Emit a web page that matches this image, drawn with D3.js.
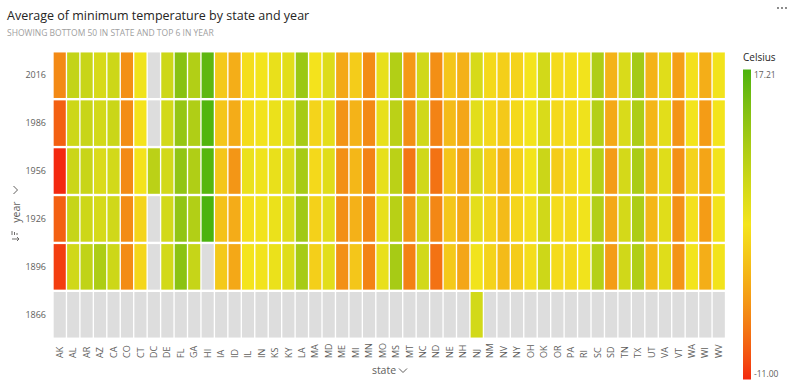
<!DOCTYPE html>
<html>
<head>
<meta charset="utf-8">
<script src="https://cdn.jsdelivr.net/npm/d3@7"></script>
<style>
  body { margin: 0; background: #fff; }
  svg { display: block; font-family: "Segoe UI", "Open Sans", sans-serif; }
</style>
</head>
<body>
<svg id="chart" width="800" height="388"></svg>
<script>
// chart data
const states = ["AK","AL","AR","AZ","CA","CO","CT","DC","DE","FL","GA","HI","IA","ID","IL","IN","KS","KY","LA","MA",
  "MD","ME","MI","MN","MO","MS","MT","NC","ND","NE","NH","NJ","NM","NV","NY","OH","OK","OR","PA","RI",
  "SC","SD","TN","TX","UT","VA","VT","WA","WI","WV"];
const years = ["2016","1986","1956","1926","1896","1866"];

const min2016 = [-5, 8, 7.5, 6, 7, -4.5, 3.5, null, 7, 13, 9.5, 16, 0.5, -2, 2.5, 3.2, 4.2, 5, 11.5, 3,
  5.5, -2.5, 0.8, -4.8, 4.3, 9.5, -3.8, 6.7, -4.6, 0.2, -1.7, 6, 2, 1, 1.4, 3.1, 6.5, 2.2, 2.4, 3.3,
  9.8, -1.5, 5.8, 10.7, -1.5, 5.2, -3.3, 2.7, -2, 3.3];
const min1986 = [-8, 7, 7.5, 6.5, 7.3, -4.7, 3, null, 6.5, 12, 9.7, 16.8, 0.2, -2.2, 2.3, 3.3, 4, 5, 10.5, 1.5,
  4.8, -4.2, -1.5, -5, 4.3, 8.7, -4.6, 6.7, -5.5, -0.8, -2.7, 5, 1.8, 0.5, 2, 3.2, 5.8, 2, 2.2, 3.6,
  9.3, -2.4, 5.8, 10, -1.3, 5, -4.2, 3.2, -3.5, 3.2];
const min1956 = [-11, 7.2, 7.5, 5.7, 6.5, -5, 3, 8.7, 6.5, 12.3, 9.7, 16.5, 0.2, -4, 4, 3.5, 4.2, 5.5, 10.5, 2,
  5.2, -4.5, -1.2, -5.5, 4.4, 8.7, -6.5, 6.7, -6.8, 0, -3.2, 6, 1, -1.5, 1.2, 3.2, 7.2, 0.8, 2, 3.5,
  9.2, -3.5, 6.3, 10.2, -2, 5.3, -4.4, 1.4, -2.8, 3.3];
const min1926 = [-8, 7.7, 7, 6.2, 6.7, -4.8, 1.5, null, 6.5, 12.2, 9.5, 17.21, -0.2, -2.2, 2.7, 3.3, 4, 5.3, 11, 1.2,
  5, -4.6, -1.7, -5.2, 4.3, 9, -4.2, 6.7, -5.2, 0.2, -2.5, 4.8, 1.4, -0.8, 1.6, 2.6, 6.7, 2.3, 2, 3.4,
  9.5, -2.5, 6.3, 10, -1.3, 5.2, -4.4, 2.7, -3.5, 3.3];
const min1896 = [-10, 6.7, 8.2, 10, 7, -4.8, 1.7, null, 6.5, 12.8, 7.7, null, 0.5, -2.5, 3.1, 3.3, 4, 5.3, 10.5, 1,
  5, -4.5, 0.2, -5.5, 4.2, 10.5, -5.7, 6.5, -6.8, 0.5, -2.7, 3.4, 1.4, -0.8, 0.8, 2.4, 7, 2.2, 2, 3.4,
  9.2, -3.5, 6.7, 9.7, -1.3, 5.3, -4.2, 3.2, -2, 3.3];
const min1866 = [null, null, null, null, null, null, null, null, null, null, null, null, null, null, null, null, null, null, null, null,
  null, null, null, null, null, null, null, null, null, null, null, 6.5, null, null, null, null, null, null, null, null,
  null, null, null, null, null, null, null, null, null, null];

const legendMin = -11.00;
const legendMax = 17.21;

// build cells
const rowsByYear = [min2016, min1986, min1956, min1926, min1896, min1866];
const cells = [];
years.forEach((y, yi) => {
    states.forEach((s, si) => {
        cells.push({ state: s, year: y, value: rowsByYear[yi][si] });
    });
});

const svg = d3.select("#chart");

const grid = { left: 53, right: 725.5, top: 51.5, bottom: 338.5 };

const x = d3.scaleBand()
    .domain(states)
    .range([grid.left, grid.right])
    .paddingInner(0.1)
    .paddingOuter(0.05);

const y = d3.scaleBand()
    .domain(years)
    .range([grid.top, grid.bottom])
    .paddingInner(0.05)
    .paddingOuter(0.02);

const mid = (legendMin + legendMax) / 2;
const color = d3.scaleLinear()
    .domain([legendMin, mid, legendMax])
    .range(["#f3290f", "#f4e41c", "#4bb30d"])
    .interpolate(d3.interpolateRgb.gamma(1.5))
    .clamp(true);

// title + subtitle
svg.append("text")
    .attr("x", 7)
    .attr("y", 20)
    .attr("fill", "#252423")
    .style("font-size", "12.5px")
    .text("Average of minimum temperature by state and year");

svg.append("text")
    .attr("x", 7)
    .attr("y", 36)
    .attr("fill", "#a0a0a0")
    .style("font-size", "8.5px")
    .text("SHOWING BOTTOM 50 IN STATE AND TOP 6 IN YEAR");

// more options dots
svg.append("g")
    .selectAll("circle")
    .data([0, 1, 2])
    .join("circle")
    .attr("cx", d => 778 + d * 4)
    .attr("cy", 8)
    .attr("r", 0.9)
    .attr("fill", "#555");

// heatmap cells
svg.append("g")
    .selectAll("rect")
    .data(cells)
    .join("rect")
    .attr("x", d => x(d.state))
    .attr("y", d => y(d.year))
    .attr("width", x.bandwidth())
    .attr("height", y.bandwidth())
    .attr("fill", d => d.value === null ? "#dddddd" : color(d.value));

// y axis
const yAxis = svg.append("g")
    .attr("transform", `translate(${grid.left},0)`)
    .call(d3.axisLeft(y).tickSize(0).tickPadding(7));
yAxis.select(".domain").remove();
yAxis.selectAll("text")
    .attr("fill", "#605e5c")
    .style("font-size", "9px")
    .style("font-family", "'Segoe UI', 'Open Sans', sans-serif");

// x axis
const xAxis = svg.append("g")
    .attr("transform", `translate(0,${grid.bottom})`)
    .call(d3.axisBottom(x).tickSize(0));
xAxis.select(".domain").remove();
xAxis.selectAll("text")
    .attr("transform", "rotate(-90)")
    .attr("x", -19.5)
    .attr("y", 0)
    .attr("dy", "0.35em")
    .attr("text-anchor", "start")
    .attr("fill", "#605e5c")
    .style("font-size", "9px")
    .style("font-family", "'Segoe UI', 'Open Sans', sans-serif");

// x axis title with chevron
svg.append("text")
    .attr("x", 384)
    .attr("y", 374)
    .attr("text-anchor", "middle")
    .attr("fill", "#605e5c")
    .style("font-size", "10.5px")
    .text("state");
svg.append("path")
    .attr("d", "M399,368.5 L403,372.5 L407,368.5")
    .attr("fill", "none")
    .attr("stroke", "#605e5c")
    .attr("stroke-width", 1);

// y axis title, rotated, with chevron + sort icon
const yt = svg.append("g").attr("transform", "translate(20,212) rotate(-90)");
yt.append("text")
    .attr("x", 0)
    .attr("y", 0)
    .attr("text-anchor", "middle")
    .attr("fill", "#605e5c")
    .style("font-size", "10.5px")
    .text("year");
yt.append("path")
    .attr("d", "M18,-6.5 L22,-2.5 L26,-6.5")
    .attr("fill", "none")
    .attr("stroke", "#605e5c")
    .attr("stroke-width", 1);
// sort icon
yt.append("path")
    .attr("d", "M-27,-8 L-27,-1 M-29,-3 L-27,-1 L-25,-3 M-23,-8 L-19,-8 M-23,-5.5 L-20,-5.5 M-23,-3 L-21,-3")
    .attr("fill", "none")
    .attr("stroke", "#605e5c")
    .attr("stroke-width", 0.9);

// legend
const legendY = d3.scaleLinear()
    .domain([legendMin, legendMax])
    .range([379.5, 69.5]);

const defs = svg.append("defs");
const grad = defs.append("linearGradient")
    .attr("id", "legendGrad")
    .attr("x1", 0).attr("y1", 1)
    .attr("x2", 0).attr("y2", 0);
grad.selectAll("stop")
    .data(d3.range(0, 1.0001, 0.05))
    .join("stop")
    .attr("offset", d => d)
    .attr("stop-color", d => color(legendMin + d * (legendMax - legendMin)));

svg.append("text")
    .attr("x", 743)
    .attr("y", 61)
    .attr("fill", "#252423")
    .style("font-size", "10px")
    .text("Celsius");

svg.append("rect")
    .attr("x", 743)
    .attr("y", legendY(legendMax))
    .attr("width", 8)
    .attr("height", legendY(legendMin) - legendY(legendMax))
    .attr("fill", "url(#legendGrad)");

svg.append("g")
    .selectAll("text")
    .data([legendMax, legendMin])
    .join("text")
    .attr("x", 754)
    .attr("y", d => d === legendMax ? legendY(d) + 8 : legendY(d) - 3)
    .attr("fill", "#605e5c")
    .style("font-size", "8.5px")
    .text(d => d3.format(".2f")(d).replace("−", "-"));
</script>
</body>
</html>
